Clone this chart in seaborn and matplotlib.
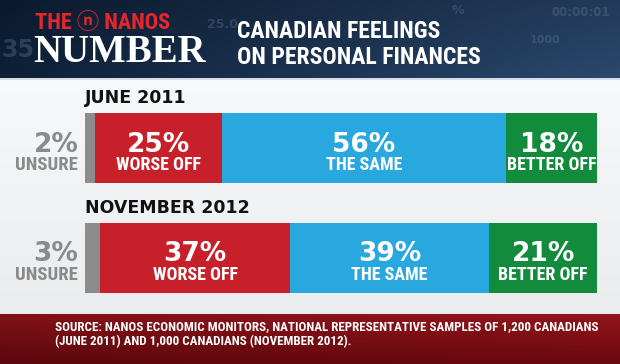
import numpy as np
import pandas as pd
import matplotlib
matplotlib.use("Agg")
import matplotlib.pyplot as plt
import seaborn as sns
from matplotlib import font_manager

# data
periods = ["JUNE 2011", "NOVEMBER 2012"]
categories = ["UNSURE", "WORSE OFF", "THE SAME", "BETTER OFF"]
june_2011 = [2, 25, 56, 18]
nov_2012 = [3, 37, 39, 21]
colors = ["#8c8c8c", "#c8202a", "#29a8e0", "#138b3d"]

title_lines = ["CANADIAN FEELINGS", "ON PERSONAL FINANCES"]
source = ("SOURCE: NANOS ECONOMIC MONITORS, NATIONAL REPRESENTATIVE SAMPLES OF 1,200 CANADIANS\n"
          "(JUNE 2011) AND 1,000 CANADIANS (NOVEMBER 2012).")

sns.set_theme(style="white")
installed = {f.name for f in font_manager.fontManager.ttflist}
narrow = next((f for f in ["Liberation Sans Narrow", "Roboto Condensed", "Open Sans Condensed", "Roboto"]
               if f in installed), "DejaVu Sans")
plt.rcParams["font.family"] = [narrow, "Noto Sans CJK JP", "DejaVu Sans"]

W, H = 620, 364
fig = plt.figure(figsize=(W / 100, H / 100), dpi=100)

# background: navy header, light body, dark red footer
bg = fig.add_axes([0, 0, 1, 1], zorder=0)
img = np.zeros((H, W, 3))
t = np.linspace(0, 1, W)
navy_l, navy_r = np.array([0.05, 0.12, 0.21]), np.array([0.16, 0.27, 0.41])
img[:78] = navy_l + (navy_r - navy_l) * t[None, :, None]
img[:78] *= np.linspace(0.85, 1.05, 78)[:, None, None]
img[78:80] = [0.85, 0.87, 0.9]
body = np.linspace(0.97, 0.92, 314 - 80)
img[80:314] = np.stack([body, body + 0.005, body + 0.01], axis=1)[:, None, :]
red_t, red_b = np.array([0.50, 0.07, 0.09]), np.array([0.36, 0.03, 0.05])
ys = np.linspace(0, 1, H - 314)
img[314:] = (red_t + (red_b - red_t) * ys[:, None])[:, None, :]
img[314:] *= (1.0 + 0.15 * t)[None, :, None]
bg.imshow(np.clip(img, 0, 1), extent=[0, W, H, 0], aspect="auto")
bg.set_xlim(0, W)
bg.set_ylim(H, 0)
bg.axis("off")

# faint decorative numbers in header
for x, y, s, fs in [(1, 50, "35", 17), (207, 24, "25.0", 9), (452, 11, "%", 9),
                    (552, 13, "00:00:01", 8.5), (530, 40, "1000", 8)]:
    bg.text(x, y, s, color="#6f8aab", alpha=0.3, fontsize=fs, va="center",
            family="DejaVu Sans", fontweight="bold")

bg.text(35, 23, "THE \u24dd NANOS", color="#e5262d", fontsize=16, va="center",
        fontweight="bold")
bg.text(33, 53, "NUMBER", color="white", fontsize=28, va="center",
        family=["Liberation Serif", "DejaVu Serif"], fontweight="bold")
bg.text(237, 31, title_lines[0], color="white", fontsize=17, va="center",
        fontweight="bold")
bg.text(237, 58, title_lines[1], color="white", fontsize=17, va="center",
        fontweight="bold")
bg.text(55, 334, source, color="white", fontsize=9.4, va="center", linespacing=1.25,
        fontweight="bold")

# stacked bars, each row scaled to fill the bar width
df = pd.DataFrame([june_2011, nov_2012], columns=categories, index=periods)
share = df.div(df.sum(axis=1), axis=0) * 100
cum = share.cumsum(axis=1)

ax = fig.add_axes([85 / W, 1 - 312.5 / H, 512 / W, 219.5 / H], zorder=1)
for i in range(len(categories) - 1, -1, -1):
    sns.barplot(x=cum[categories[i]].values, y=periods, color=colors[i], orient="h",
                width=0.64, saturation=1, linewidth=0, ax=ax)
ax.set_xlim(0, 100)
ax.set_ylim(1.5, -0.5)
ax.axis("off")

for r, period in enumerate(periods):
    ax.text(0, r - 0.405, period, fontsize=12.5, fontweight="bold", color="#111111",
            va="baseline", ha="left", family="DejaVu Sans")
    left = 0
    for i, cat in enumerate(categories):
        val = df.loc[period, cat]
        w = share.loc[period, cat]
        if i == 0:
            ax.text(-1.3, r + 0.035, f"{val}%", color="#8a8a8a", fontsize=19,
                    fontweight="bold", ha="right", va="baseline", family="DejaVu Sans")
            ax.text(-1.3, r + 0.205, cat, color="#8a8a8a", fontsize=13.5,
                    fontweight="bold", ha="right", va="baseline")
        else:
            mid = left + w / 2
            ax.text(mid, r + 0.035, f"{val}%", color="white", fontsize=19,
                    fontweight="bold", ha="center", va="baseline", family="DejaVu Sans")
            ax.text(mid, r + 0.205, cat, color="white", fontsize=13,
                    fontweight="bold", ha="center", va="baseline")
        left += w

fig.savefig("out.png", dpi=100)
